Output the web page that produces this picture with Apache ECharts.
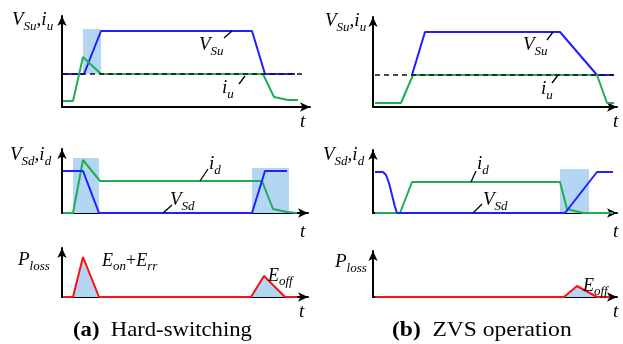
<!DOCTYPE html>
<html>
<head>
<meta charset="utf-8">
<script src="https://cdn.jsdelivr.net/npm/echarts@6/dist/echarts.min.js"></script>
<style>
  html, body { margin: 0; padding: 0; background: #fff; }
  #main { width: 623px; height: 344px; }
</style>
</head>
<body>
<div id="main"></div>
<script>
// time in px-like units from each panel origin, amplitude in the same units
// (a) hard-switching
var hsVsu = [[1, 33], [22, 33], [39, 76], [190, 76], [203, 33], [233, 33]];
var hsIu = [[1, 6], [11, 6], [21, 50], [39, 33], [201, 33], [212, 10], [226, 7], [236, 7]];
var hsRef = [[1, 33], [240, 33]];
var hsTopBoxes = [[[21, 78], [39, 33]]];
var hsVsd = [[1, 42], [21, 42], [37, 0], [190, 0], [203, 42], [225, 42]];
var hsId = [[1, 0], [11, 0], [21, 53], [38, 32], [200, 32], [211, 4], [225, 1], [235, 0]];
var hsMidBoxes = [[[11, 55], [37, 0]], [[190, 45], [227, 0]]];
var hsPloss = [[1, 0], [11, 0], [21, 40], [37, 0], [189, 0], [202, 21], [223, 0], [235, 0]];
// (b) ZVS operation
var zvsVsu = [[39, 32], [52, 75], [187, 75], [224, 32], [241, 32]];
var zvsIu = [[2, 4], [28, 4], [40, 32], [224, 32], [234, 4], [241, 4]];
var zvsRef = [[2, 32], [241, 32]];
var zvsVsd = [[2, 41], [10, 41], [13, 38], [16, 30], [19, 18], [22, 6], [24, 0], [192, 0], [224, 41], [240, 41]];
var zvsId = [[2, 0], [27, 0], [39, 31], [187, 31], [194, 4], [210, 0], [240, 0]];
var zvsMidBoxes = [[[187, 44], [216, 0]]];
var zvsPloss = [[2, 0], [191, 0], [204, 11], [224, 0], [237, 0]];

// short leader lines from curve to its label
var hsTopLeaders = [[[170, 76], [162, 69]], [[183, 31], [177, 23]]];
var hsMidLeaders = [[[138, 32], [146, 44]], [[101, 0], [110, 8]]];
var zvsTopLeaders = [[[180, 75], [174, 67]], [[185, 32], [179, 24]]];
var zvsMidLeaders = [[[98, 31], [103, 42]], [[100, 0], [109, 9]]];

var BLUE = '#1f1fff', GREEN = '#1fae55', RED = '#ff1010', BOX = '#b3d6f5';

var chart = echarts.init(document.getElementById('main'));

var grids = [
    { left: 62, top: 16, width: 248, height: 91 },
    { left: 373, top: 17, width: 244, height: 90 },
    { left: 62, top: 149, width: 246, height: 64 },
    { left: 373, top: 150, width: 244, height: 63 },
    { left: 62, top: 248, width: 246, height: 49 },
    { left: 373, top: 251, width: 244, height: 46 }
];

function axisLine() {
    return {
        show: true,
        symbol: ['none', 'arrow'],
        symbolSize: [7, 10],
        lineStyle: { color: '#000', width: 2 }
    };
}

var xAxes = [], yAxes = [];
grids.forEach(function (g, i) {
    xAxes.push({
        type: 'value', gridIndex: i, min: 0, max: g.width,
        axisLine: axisLine(), axisTick: { show: false },
        axisLabel: { show: false }, splitLine: { show: false }
    });
    yAxes.push({
        type: 'value', gridIndex: i, min: 0, max: g.height,
        axisLine: axisLine(), axisTick: { show: false },
        axisLabel: { show: false }, splitLine: { show: false }
    });
});

function wave(idx, data, color, extra) {
    var s = {
        type: 'line', xAxisIndex: idx, yAxisIndex: idx, data: data,
        showSymbol: false, animation: false, silent: true,
        lineStyle: { color: color, width: 2 }
    };
    for (var k in extra) s[k] = extra[k];
    return s;
}

function boxes(idx, list) {
    return {
        type: 'line', xAxisIndex: idx, yAxisIndex: idx, data: [], z: 1,
        animation: false, silent: true,
        markArea: {
            silent: true,
            itemStyle: { color: BOX, opacity: 1 },
            data: list.map(function (b) {
                return [{ coord: b[0] }, { coord: b[1] }];
            })
        }
    };
}

function leaders(idx, list) {
    return list.map(function (l) {
        return wave(idx, l, '#000', { lineStyle: { color: '#000', width: 1.3 }, z: 5 });
    });
}

var dashed = { lineStyle: { color: '#111', width: 1.4, type: [5, 4] }, z: 4 };

var series = [
    boxes(0, hsTopBoxes),
    wave(0, hsVsu, BLUE),
    wave(0, hsIu, GREEN),
    wave(0, hsRef, '#111', dashed),
    boxes(1, []),
    wave(1, zvsVsu, BLUE),
    wave(1, zvsIu, GREEN),
    wave(1, zvsRef, '#111', dashed),
    boxes(2, hsMidBoxes),
    wave(2, hsId, GREEN),
    wave(2, hsVsd, BLUE),
    boxes(3, zvsMidBoxes),
    wave(3, zvsId, GREEN),
    wave(3, zvsVsd, BLUE),
    wave(4, hsPloss, RED, { areaStyle: { color: BOX, opacity: 1 } }),
    wave(5, zvsPloss, RED, { areaStyle: { color: BOX, opacity: 1 } })
].concat(leaders(0, hsTopLeaders), leaders(1, zvsTopLeaders),
    leaders(2, hsMidLeaders), leaders(3, zvsMidLeaders));

var SERIF = '"Liberation Serif", "Times New Roman", serif';
var rich = {
    m: { fontFamily: SERIF, fontStyle: 'italic', fontSize: 19, lineHeight: 19, verticalAlign: 'top', fill: '#000' },
    s: { fontFamily: SERIF, fontStyle: 'italic', fontSize: 13, lineHeight: 13, padding: [10, 0, 0, 0], verticalAlign: 'top', fill: '#000' },
    e: { fontFamily: SERIF, fontStyle: 'italic', fontSize: 18, lineHeight: 18, verticalAlign: 'top', fill: '#000' },
    es: { fontFamily: SERIF, fontStyle: 'italic', fontSize: 13, lineHeight: 13, padding: [8, 0, 0, 0], verticalAlign: 'top', fill: '#000' },
    p: { fontFamily: SERIF, fontSize: 18, lineHeight: 18, verticalAlign: 'top', fill: '#000' },
    b: { fontFamily: SERIF, fontWeight: 'bold', fontSize: 21, lineHeight: 21, verticalAlign: 'top', fill: '#000' },
    c: { fontFamily: SERIF, fontSize: 21, lineHeight: 21, verticalAlign: 'top', fill: '#000' }
};

function label(x, y, text, sx) {
    return {
        type: 'text', x: x, y: y, scaleX: sx || 1, z: 10,
        style: { text: text, rich: rich, align: 'left', verticalAlign: 'top', textAlign: 'left', textVerticalAlign: 'top' }
    };
}

var texts = [
    label(12, 10, '{m|V}{s|Su}{m|,i}{s|u}'),
    label(325, 11, '{m|V}{s|Su}{m|,i}{s|u}'),
    label(199, 35, '{m|V}{s|Su}'),
    label(222, 78, '{m|i}{s|u}'),
    label(523, 35, '{m|V}{s|Su}'),
    label(541, 79, '{m|i}{s|u}'),
    label(10, 145, '{m|V}{s|Sd}{m|,i}{s|d}'),
    label(323, 145, '{m|V}{s|Sd}{m|,i}{s|d}'),
    label(209, 154, '{m|i}{s|d}'),
    label(170, 190, '{m|V}{s|Sd}'),
    label(477, 154, '{m|i}{s|d}'),
    label(483, 190, '{m|V}{s|Sd}'),
    label(18, 250, '{m|P}{s|loss}'),
    label(335, 252, '{m|P}{s|loss}'),
    label(102, 252, '{e|E}{es|on}{p|+}{e|E}{es|rr}'),
    label(268, 267, '{e|E}{es|off}'),
    label(583, 277, '{e|E}{es|off}'),
    label(300, 112, '{m|t}'),
    label(613, 112, '{m|t}'),
    label(300, 222, '{m|t}'),
    label(613, 222, '{m|t}'),
    label(299, 302, '{m|t}'),
    label(613, 302, '{m|t}'),
    label(73, 320, '{b|(a)}{c|  Hard-switching}', 1.08),
    label(392, 320, '{b|(b)}{c|  ZVS operation}', 1.12)
];

var option = {
    backgroundColor: '#fff',
    animation: false,
    grid: grids,
    xAxis: xAxes,
    yAxis: yAxes,
    series: series,
    graphic: texts
};
option && chart.setOption(option);
</script>
</body>
</html>
